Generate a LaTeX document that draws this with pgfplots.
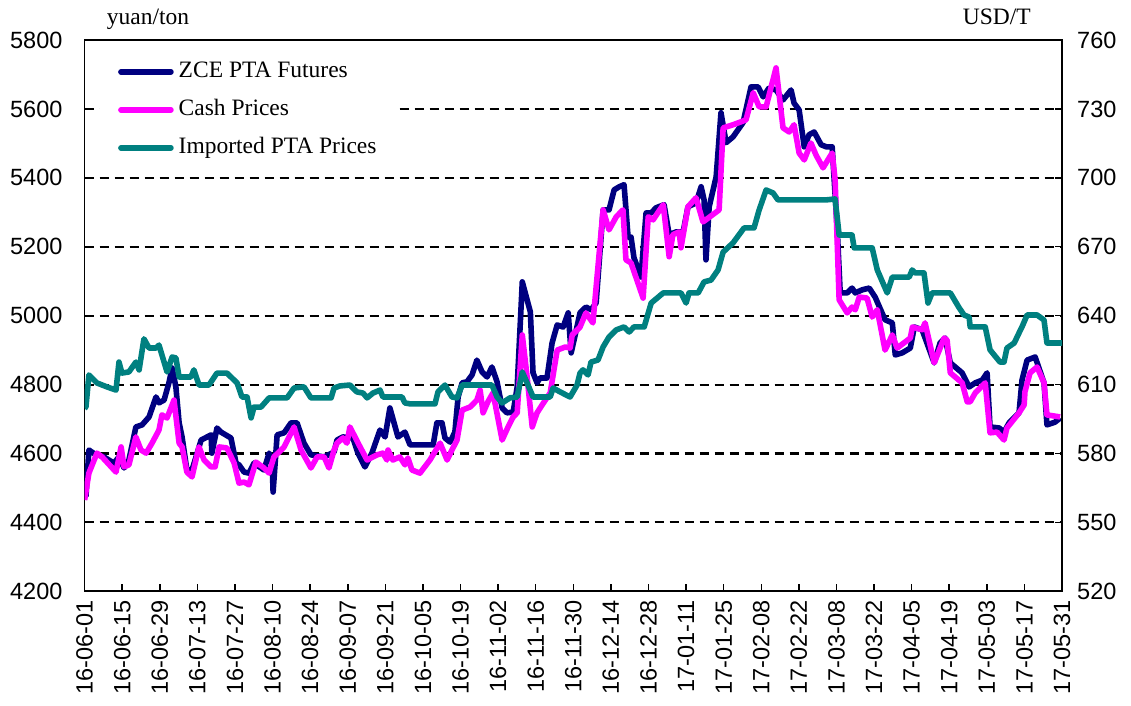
\documentclass[border=0pt]{standalone}
\usepackage{fontspec}
\setmainfont{Liberation Serif}
\newfontfamily\arialfont{Liberation Sans}
\usepackage{pgfplots}
\pgfplotsset{compat=1.18}
\definecolor{navyc}{RGB}{0,0,128}
\definecolor{tealc}{RGB}{0,128,128}
\definecolor{magc}{RGB}{255,0,255}
\newcommand{\tickfont}{\arialfont\fontsize{23.5}{28}\selectfont}
\newcommand{\txtfont}{\fontsize{23.5}{28}\selectfont}
\begin{document}
\begin{tikzpicture}
\path[use as bounding box] (-84.6pt,-113.7pt) rectangle (1046.4pt,591.3pt);
\begin{axis}[
  at={(0pt,0pt)}, anchor=south west,
  scale only axis, width=977.4pt, height=551.3pt,
  xmin=0, xmax=364, ymin=4200, ymax=5800,
  xtick={0,14,...,364},
  xticklabels={16-06-01,16-06-15,16-06-29,16-07-13,16-07-27,16-08-10,16-08-24,16-09-07,16-09-21,16-10-05,16-10-19,16-11-02,16-11-16,16-11-30,16-12-14,16-12-28,17-01-11,17-01-25,17-02-08,17-02-22,17-03-08,17-03-22,17-04-05,17-04-19,17-05-03,17-05-17,17-05-31},
  ytick={4200,4400,...,5800},
  tick align=inside, xtick pos=left, ytick pos=left,
  major tick length=7pt,
  tick style={black, line width=1.5pt},
  axis line style={line width=1.8pt},
  ymajorgrids, grid style={black, line width=2.1pt, dash pattern=on 9pt off 6pt},
  xticklabel style={font=\tickfont, rotate=90, anchor=east, inner sep=0pt},
  xticklabel shift=9pt,
  yticklabel style={font=\tickfont, inner sep=0pt},
  yticklabel shift=22pt,
  /pgf/number format/1000 sep={},
  /pgf/number format/assume math mode=true,
  legend cell align=left,
  legend style={at={(axis description cs:0.0157,0.9806)}, anchor=north west,
    draw=none, fill=white, inner xsep=18pt, inner ysep=10pt,
    font=\txtfont, row sep=16pt, column sep=5pt,
    nodes={inner sep=0pt, text height=17pt, text depth=5pt}},
  legend image code/.code={\draw[#1, line cap=round] (2.5pt,0pt) -- (52.5pt,0pt);},
]
\addplot[navyc, line width=5.6pt, line join=round] coordinates {
(0.5,4475) (1.6,4610) (3.5,4600) (7.2,4590) (10.9,4572) (12.8,4590) (14.7,4558) (16.5,4581)
(19.1,4677) (21.4,4683) (24.0,4706) (26.6,4764) (27.7,4747) (29.6,4755) (31.4,4805) (32.6,4848)
(34.0,4793) (35.2,4689) (36.3,4648) (38.1,4552) (40.0,4552) (41.5,4590) (43.4,4639) (47.1,4654)
(47.4,4601) (49.3,4674) (50.8,4662) (54.5,4645) (56.4,4572) (57.5,4567) (59.4,4546) (61.2,4543)
(63.1,4572) (66.8,4552) (68.7,4601) (69.8,4581) (70.2,4488) (71.7,4654) (74.3,4660) (76.9,4689)
(79.1,4689) (81.7,4630) (84.3,4596) (89.2,4590) (92.9,4604) (94.0,4639) (96.2,4648) (99.9,4645)
(101.8,4601) (104.4,4561) (107.0,4601) (110.0,4668) (111.9,4648) (113.7,4732) (116.7,4648) (119.3,4662)
(121.2,4625) (129.8,4625) (131.2,4689) (133.1,4689) (134.2,4645) (136.1,4633) (137.9,4662) (139.1,4764)
(140.6,4805) (142.4,4808) (144.3,4828) (146.1,4871) (148.0,4837) (149.9,4822) (151.7,4851) (153.6,4808)
(155.5,4732) (157.3,4718) (159.6,4720) (161.1,4793) (163.0,5098) (166.0,5011) (167.0,4834) (168.5,4805)
(169.6,4819) (172.2,4819) (174.1,4921) (176.0,4973) (178.2,4967) (180.1,5008) (181.2,4892) (182.7,4944)
(184.5,5008) (186.7,5025) (188.6,5017) (190.5,5037) (193.1,5307) (195.3,5307) (197.2,5365) (199.1,5374)
(200.9,5380) (202.4,5228) (203.5,5228) (204.6,5168) (207.2,5112) (209.1,5298) (211.0,5298) (212.8,5313)
(215.8,5322) (217.7,5235) (220.3,5243) (222.9,5243) (224.7,5316) (227.7,5327) (229.6,5374) (230.7,5336)
(231.4,5162) (232.6,5316) (235.2,5403) (237.0,5589) (238.9,5502) (241.5,5519) (245.2,5560) (248.2,5664)
(250.8,5664) (252.7,5635) (254.9,5661) (257.5,5655) (260.1,5626) (263.1,5655) (264.2,5617) (266.1,5597)
(268.0,5490) (269.8,5525) (271.7,5533) (274.3,5496) (276.2,5490) (278.4,5490) (280.3,5249) (281.4,5066)
(284.0,5066) (285.8,5080) (287.0,5066) (289.6,5075) (292.2,5080) (294.4,5054) (298.1,4988) (300.8,4979)
(301.9,4886) (304.5,4892) (307.5,4906) (309.0,4967) (311.9,4959) (316.4,4863) (318.6,4921) (320.5,4935)
(322.4,4863) (326.8,4834) (329.4,4793) (331.7,4805) (334.3,4813) (336.1,4834) (337.2,4677) (340.6,4674)
(342.4,4662) (344.3,4689) (348.0,4718) (349.1,4813) (351.0,4871) (354.0,4880) (357.3,4805) (358.4,4683)
(361.4,4691) (363.3,4703)
};
\addlegendentry{ZCE PTA Futures}
\addplot[magc, line width=5.6pt, line join=round] coordinates {
(0,4465) (1.6,4543) (4.6,4601) (6.5,4590) (11.7,4546) (13.6,4619) (14.7,4561) (16.5,4567)
(19.1,4648) (21.0,4610) (22.9,4601) (25.1,4630) (27.7,4668) (28.8,4712) (30.7,4703) (33.3,4755)
(35.2,4630) (36.3,4619) (38.1,4546) (40.0,4532) (42.6,4619) (44.5,4581) (47.1,4561) (48.6,4561)
(50.1,4619) (53.0,4616) (55.7,4572) (57.5,4514) (59.4,4517) (61.2,4509) (63.8,4575) (66.8,4558)
(68.7,4543) (70.5,4590) (72.4,4604) (74.3,4619) (78.0,4677) (80.6,4610) (84.3,4558) (86.6,4590)
(89.2,4590) (91.0,4558) (92.9,4610) (94.0,4630) (96.2,4645) (97.7,4630) (98.8,4677) (102.6,4619)
(105.2,4581) (108.9,4596) (111.1,4601) (112.6,4581) (113.0,4610) (114.8,4581) (117.4,4590) (119.3,4567)
(120.4,4587) (121.9,4552) (124.9,4543) (128.6,4581) (132.4,4630) (135.0,4581) (136.8,4610) (138.7,4639)
(140.6,4726) (143.6,4735) (146.1,4755) (147.3,4784) (148.4,4718) (150.2,4750) (152.1,4776) (155.5,4639)
(157.7,4677) (159.6,4706) (161.1,4718) (163.0,4944) (164.8,4822) (166.7,4677) (168.5,4718) (170.4,4741)
(173.4,4776) (176.0,4900) (179.0,4909) (180.8,4906) (181.6,4944) (184.5,4967) (186.7,5008) (189.3,4979)
(193.1,5307) (195.3,5249) (198.0,5287) (200.5,5307) (201.6,5162) (203.5,5153) (208.0,5051) (209.9,5287)
(211.7,5278) (215.5,5322) (217.7,5171) (219.1,5235) (221.4,5243) (222.1,5197) (224.7,5316) (227.7,5342)
(230.3,5272) (236.3,5307) (237.8,5545) (241.5,5554) (246.3,5568) (249.0,5647) (251.2,5606) (253.8,5606)
(257.5,5719) (260.1,5545) (262.4,5533) (264.2,5554) (266.1,5472) (268.0,5452) (270.5,5501) (272.4,5466)
(275.0,5429) (278.4,5472) (279.5,5394) (281.0,5046) (284.0,5008) (285.8,5025) (287.0,5017) (288.5,5054)
(291.4,5051) (293.3,4996) (295.2,5017) (298.1,4900) (300.8,4944) (302.6,4906) (307.5,4935) (308.3,4967)
(311.9,4959) (313.0,4979) (316.4,4863) (320.1,4935) (321.2,4929) (322.4,4834) (326.8,4805) (328.7,4750)
(329.8,4750) (331.7,4776) (335.4,4805) (337.2,4660) (339.8,4662) (342.4,4639) (343.5,4674) (348.0,4718)
(349.9,4741) (350.2,4779) (352.1,4834) (354.7,4851) (357.3,4805) (358.4,4712) (363.3,4706)
};
\addlegendentry{Cash Prices}
\addlegendimage{tealc, line width=5.6pt}
\addlegendentry{Imported PTA Prices}
\end{axis}
\begin{axis}[
  at={(0pt,0pt)}, anchor=south west,
  scale only axis, width=977.4pt, height=551.3pt,
  xmin=0, xmax=364, ymin=520, ymax=760,
  ytick={520,550,...,760},
  axis x line=none, axis y line*=right,
  tick align=inside, major tick length=7pt,
  tick style={black, line width=1.5pt},
  axis line style={line width=1.8pt},
  yticklabel style={font=\tickfont, inner sep=0pt},
  yticklabel shift=15pt,
  /pgf/number format/1000 sep={},
  /pgf/number format/assume math mode=true,
]
\addplot[tealc, line width=5.6pt, line join=round] coordinates {
(0,599.8) (0.5,600.2) (1.6,614.2) (4.6,610.7) (8.3,609.0) (11.7,607.6) (12.8,619.8) (13.9,615.0)
(16.5,615.5) (19.1,619.8) (20.3,616.4) (22.1,629.9) (24.0,625.9) (26.6,625.9) (27.7,627.2) (28.8,622.9)
(30.7,615.5) (32.6,622.0) (34.0,621.6) (35.2,613.3) (39.6,613.3) (40.7,616.4) (42.6,609.8) (46.3,609.8)
(49.3,615.0) (53.0,615.0) (56.8,610.7) (58.6,604.6) (60.5,604.6) (62.0,595.5) (63.1,600.2) (65.7,600.2)
(68.7,604.2) (75.4,604.2) (78.0,608.5) (81.7,609.0) (84.3,604.2) (91.8,604.2) (92.9,608.5) (95.1,609.4)
(98.8,609.8) (101.4,606.8) (103.7,606.3) (105.2,604.2) (107.4,606.3) (110.0,607.6) (111.1,604.6) (118.2,604.6)
(119.3,602.0) (121.2,601.6) (130.5,601.6) (131.6,606.8) (134.2,609.8) (136.8,604.6) (138.7,604.2) (140.6,609.8)
(151.7,609.8) (153.6,604.6) (155.5,602.0) (158.4,604.2) (161.1,604.6) (163.0,615.5) (164.8,610.7) (167.0,604.6)
(173.4,604.6) (174.5,608.5) (177.1,606.8) (180.8,604.6) (183.4,609.8) (184.5,615.0) (185.6,616.4) (187.5,614.2)
(188.6,619.8) (191.2,620.7) (193.1,626.4) (195.3,630.7) (198.0,633.8) (200.9,635.1) (202.8,632.9) (204.6,635.1)
(208.4,635.1) (211.0,645.5) (215.5,649.9) (222.1,649.9) (224.0,645.5) (225.1,649.9) (228.5,649.9) (230.7,654.7)
(233.3,655.5) (235.9,659.9) (237.8,667.7) (241.5,671.7) (245.6,678.2) (249.3,678.2) (251.2,686.0) (253.8,694.7)
(256.4,693.4) (258.2,690.4) (276.2,690.4) (279.5,690.8) (281.0,675.1) (285.8,675.1) (286.6,669.5) (293.3,669.5)
(295.2,659.9) (298.9,649.9) (300.8,656.8) (307.1,656.8) (308.2,659.9) (309.3,658.6) (312.6,658.6) (314.1,645.5)
(315.6,649.9) (322.4,649.9) (325.7,643.4) (327.5,640.3) (329.4,639.4) (329.8,635.1) (335.4,635.1) (337.2,625.1)
(340.9,619.8) (342.4,619.8) (343.5,625.9) (346.2,628.1) (348.0,632.5) (349.1,635.1) (351.0,640.3) (354.7,640.3)
(357.3,638.1) (358.4,628.1) (364,628.1)
};
\end{axis}
\node[anchor=base west, font=\txtfont, inner sep=0pt] at (22.1pt,566.3pt) {yuan/ton};
\node[anchor=base east, font=\txtfont, inner sep=0pt] at (946.4pt,566.3pt) {USD/T};
\end{tikzpicture}
\end{document}
